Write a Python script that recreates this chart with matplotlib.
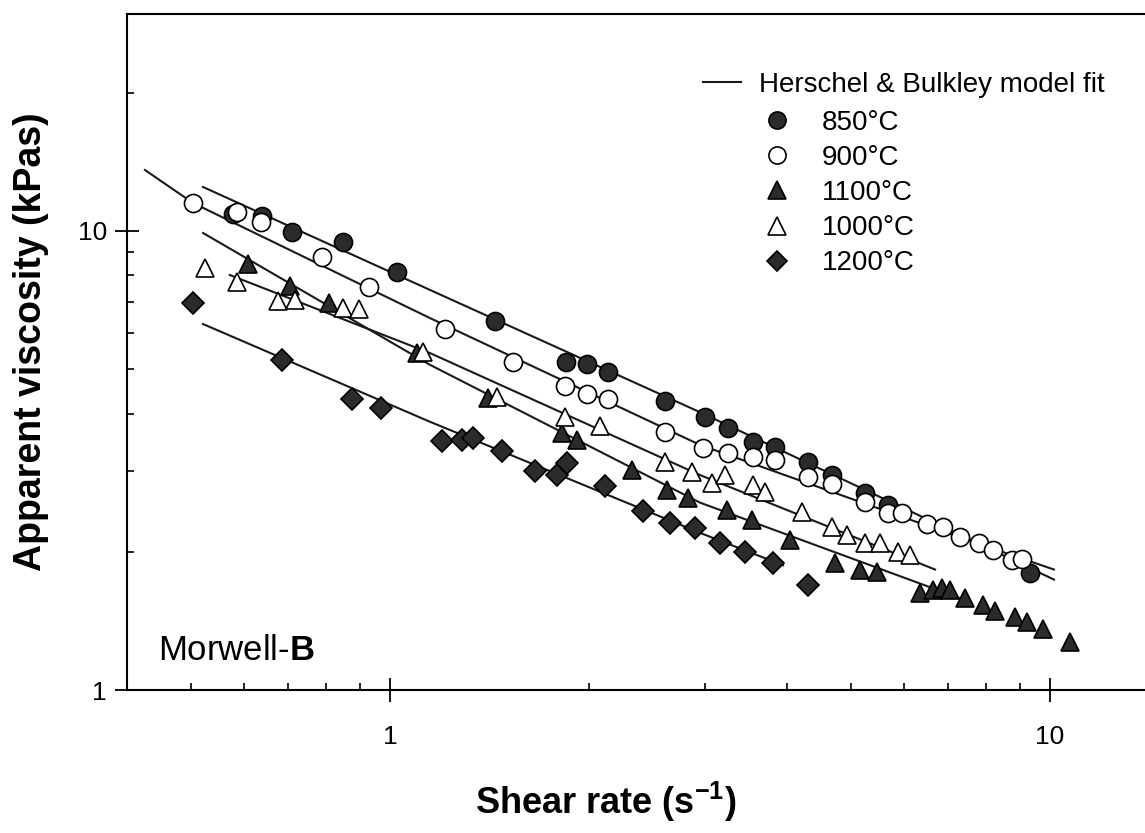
import matplotlib
matplotlib.use('Agg')
import matplotlib.pyplot as plt
from matplotlib import ticker

plt.rcParams['font.family'] = ['Liberation Sans', 'DejaVu Sans']
plt.rcParams['mathtext.fontset'] = 'custom'
plt.rcParams['mathtext.rm'] = 'Liberation Sans'
plt.rcParams['mathtext.bf'] = 'Liberation Sans:bold'

# measured points (shear rate 1/s, apparent viscosity kPas)
x850 = [0.578, 0.640, 0.710, 0.849, 1.025, 1.443, 1.848, 1.988, 2.140, 2.611,
        3.001, 3.252, 3.548, 3.831, 4.299, 4.674, 5.245, 5.683, 9.326]
y850 = [10.89, 10.78, 9.95, 9.46, 8.14, 6.37, 5.18, 5.13, 4.93, 4.26,
        3.93, 3.72, 3.47, 3.38, 3.14, 2.94, 2.69, 2.53, 1.80]

x900 = [0.503, 0.586, 0.638, 0.789, 0.929, 1.212, 1.536, 1.841, 1.988, 2.140,
        2.611, 2.981, 3.252, 3.548, 3.831, 4.299, 4.674, 5.245, 5.683, 5.968,
        6.512, 6.884, 7.306, 7.805, 8.198, 8.757, 9.070]
y900 = [11.51, 11.0, 10.46, 8.78, 7.55, 6.12, 5.18, 4.60, 4.41, 4.31,
        3.65, 3.37, 3.28, 3.22, 3.17, 2.91, 2.81, 2.57, 2.43, 2.43,
        2.30, 2.27, 2.15, 2.09, 2.02, 1.92, 1.93]

x1100 = [0.609, 0.705, 0.808, 1.099, 1.408, 1.822, 1.920, 2.326, 2.629, 2.829,
         3.240, 3.536, 4.037, 4.723, 5.153, 5.469, 6.353, 6.647, 6.860, 7.054,
         7.435, 7.916, 8.254, 8.851, 9.229, 9.759, 10.72]
y1100 = [8.48, 7.59, 6.97, 5.42, 4.33, 3.63, 3.50, 3.01, 2.73, 2.62,
         2.47, 2.35, 2.12, 1.89, 1.83, 1.81, 1.63, 1.65, 1.67, 1.65,
         1.59, 1.53, 1.49, 1.44, 1.41, 1.36, 1.27]

x1000 = [0.5245, 0.586, 0.677, 0.718, 0.849, 0.898, 1.122, 1.453, 1.841, 2.080,
         2.611, 2.869, 3.075, 3.219, 3.548, 3.700, 4.209, 4.674, 4.925, 5.245,
         5.527, 5.885, 6.136]
y1000 = [8.31, 7.74, 7.04, 7.07, 6.80, 6.76, 5.45, 4.35, 3.93, 3.76,
         3.14, 2.99, 2.82, 2.94, 2.80, 2.70, 2.44, 2.27, 2.18, 2.09,
         2.09, 2.00, 1.97]

x1200 = [0.503, 0.686, 0.876, 0.969, 1.199, 1.286, 1.336, 1.478, 1.658, 1.791,
         1.854, 2.117, 2.417, 2.656, 2.898, 3.162, 3.451, 3.804, 4.299]
y1200 = [6.97, 5.24, 4.31, 4.12, 3.49, 3.50, 3.54, 3.32, 3.00, 2.94,
         3.12, 2.78, 2.45, 2.31, 2.25, 2.09, 2.00, 1.89, 1.69]

# Herschel & Bulkley fit curves
fx850 = [0.521, 1.150, 2.949, 7.306, 10.14]
fy850 = [12.47, 7.44, 4.03, 2.18, 1.74]
fx900 = [0.4254, 0.503, 1.150, 2.949, 7.306, 10.14]
fy900 = [13.58, 11.51, 6.46, 3.42, 2.15, 1.83]
fx1000 = [0.572, 1.150, 2.949, 6.697]
fy1000 = [8.02, 5.42, 2.94, 1.83]
fx1100 = [0.521, 1.150, 2.949, 7.435]
fy1100 = [9.90, 5.11, 2.56, 1.57]
fx1200 = [0.521, 1.150, 2.949, 3.940]
fy1200 = [6.27, 3.84, 2.20, 1.87]

dark = '#2b2b2b'

fig = plt.figure(figsize=(11.45, 8.33), dpi=100)
ax = fig.add_axes([127/1145, 1-690/833, 1-127/1145, (690-14)/833])

for fx, fy in [(fx850, fy850), (fx900, fy900), (fx1000, fy1000), (fx1100, fy1100), (fx1200, fy1200)]:
    fit_line, = ax.plot(fx, fy, color='#1a1a1a', lw=1.5, zorder=2)

mk = dict(ls='none', mec='black', mew=1.2, zorder=3)
p850, = ax.plot(x850, y850, 'o', ms=13, mfc=dark, **mk)
p900, = ax.plot(x900, y900, 'o', ms=13, mfc='white', **mk)
p1100, = ax.plot(x1100, y1100, '^', ms=13, mfc=dark, **mk)
p1000, = ax.plot(x1000, y1000, '^', ms=13, mfc='white', **mk)
p1200, = ax.plot(x1200, y1200, 'D', ms=11, mfc=dark, **mk)

ax.set_xscale('log')
ax.set_yscale('log')
ax.set_xlim(0.3996, 13.93)
ax.set_ylim(1, 29.7)

for ax_ in [ax.xaxis, ax.yaxis]:
    ax_.set_major_formatter(ticker.FormatStrFormatter('%g'))
    ax_.set_minor_formatter(ticker.NullFormatter())
ax.tick_params(which='major', direction='inout', length=17, width=1.3, labelsize=19, pad=6)
ax.tick_params(which='minor', direction='in', length=5, width=1.2)
ax.tick_params(axis='x', which='major', pad=17)
ax.spines['right'].set_visible(False)
for s in ['left', 'bottom', 'top']:
    ax.spines[s].set_linewidth(1.5)

ax.set_xlabel(r'Shear rate (s$^{\mathbf{-1}}$)', fontsize=26, fontweight='bold', va='center')
ax.xaxis.set_label_coords(0.47, -0.165)
ax.set_ylabel('Apparent viscosity (kPas)', fontsize=27, fontweight='bold', va='center')
ax.yaxis.set_label_coords(-0.094, 0.515)

ax.text(0.0305, 0.059, r'Morwell-$\mathbf{B}$', fontsize=25, va='center', transform=ax.transAxes)

leg1 = ax.legend([fit_line], ['Herschel & Bulkley model fit'], loc='center left',
                 bbox_to_anchor=(0.5658, 0.895), frameon=False, fontsize=20,
                 borderpad=0, borderaxespad=0, handlelength=1.37, handletextpad=0.63)
ax.add_artist(leg1)
ax.legend([p850, p900, p1100, p1000, p1200],
          ['850°C', '900°C', '1100°C', '1000°C', '1200°C'],
          loc='center left', bbox_to_anchor=(0.6248, 0.735), frameon=False, fontsize=20,
          borderpad=0, borderaxespad=0, handlelength=1.0, handletextpad=1.12,
          labelspacing=0.33, numpoints=1, markerscale=0.95)

fig.savefig('out.png', dpi=100)
